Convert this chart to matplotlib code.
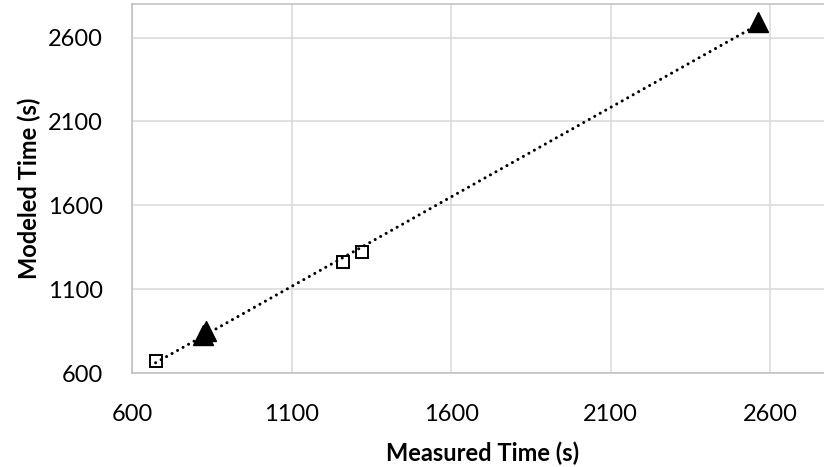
import numpy as np
import matplotlib
matplotlib.use("Agg")
import matplotlib.pyplot as plt

plt.rcParams['font.family'] = ['Lato', 'DejaVu Sans']

# Measured vs modeled completion times (seconds)
square_measured = [674, 1260, 1321]
square_modeled = [671, 1263, 1322]
triangle_measured = [821, 832, 2561]
triangle_modeled = [826, 850, 2691]

tick_values = [600, 1100, 1600, 2100, 2600]
x_label = "Measured Time (s)"
y_label = "Modeled Time (s)"

W, H = 824, 467
fig = plt.figure(figsize=(W / 100, H / 100), dpi=100)
ax = fig.add_axes([132 / W, (H - 373) / H, 702 / W, 369 / H])

ax.set_xlim(600, 2800)
ax.set_ylim(600, 2800)
ax.set_xticks(tick_values)
ax.set_yticks(tick_values)
ax.grid(True, color="#d9d9d9", linewidth=1.1, zorder=0)
ax.set_axisbelow(True)
for side in ax.spines.values():
    side.set_color("#bfbfbf")
    side.set_linewidth(1.1)
ax.tick_params(length=0, labelsize=17, colors="black")
ax.tick_params(axis="x", pad=22)
ax.tick_params(axis="y", pad=21)

# Linear trendline across all points
all_x = np.array(square_measured + triangle_measured, dtype=float)
all_y = np.array(square_modeled + triangle_modeled, dtype=float)
slope, intercept = np.polyfit(all_x, all_y, 1)
xs = np.array([all_x.min(), all_x.max()])
ax.plot(xs, slope * xs + intercept, color="black", linewidth=2.2,
        linestyle=(0, (0.01, 2.05)), dash_capstyle="round", zorder=2)

ax.plot(square_measured, square_modeled, linestyle="none", marker="s",
        markersize=8, markerfacecolor="none", markeredgecolor="black",
        markeredgewidth=1.4, zorder=3)
ax.plot(triangle_measured, triangle_modeled, linestyle="none", marker="^",
        markersize=14, color="black", zorder=3)

ax.set_xlabel(x_label, fontsize=17, fontweight="bold", labelpad=12)
ax.set_ylabel(y_label, fontsize=17, fontweight="bold", labelpad=5)

fig.savefig("out.png", dpi=100)
